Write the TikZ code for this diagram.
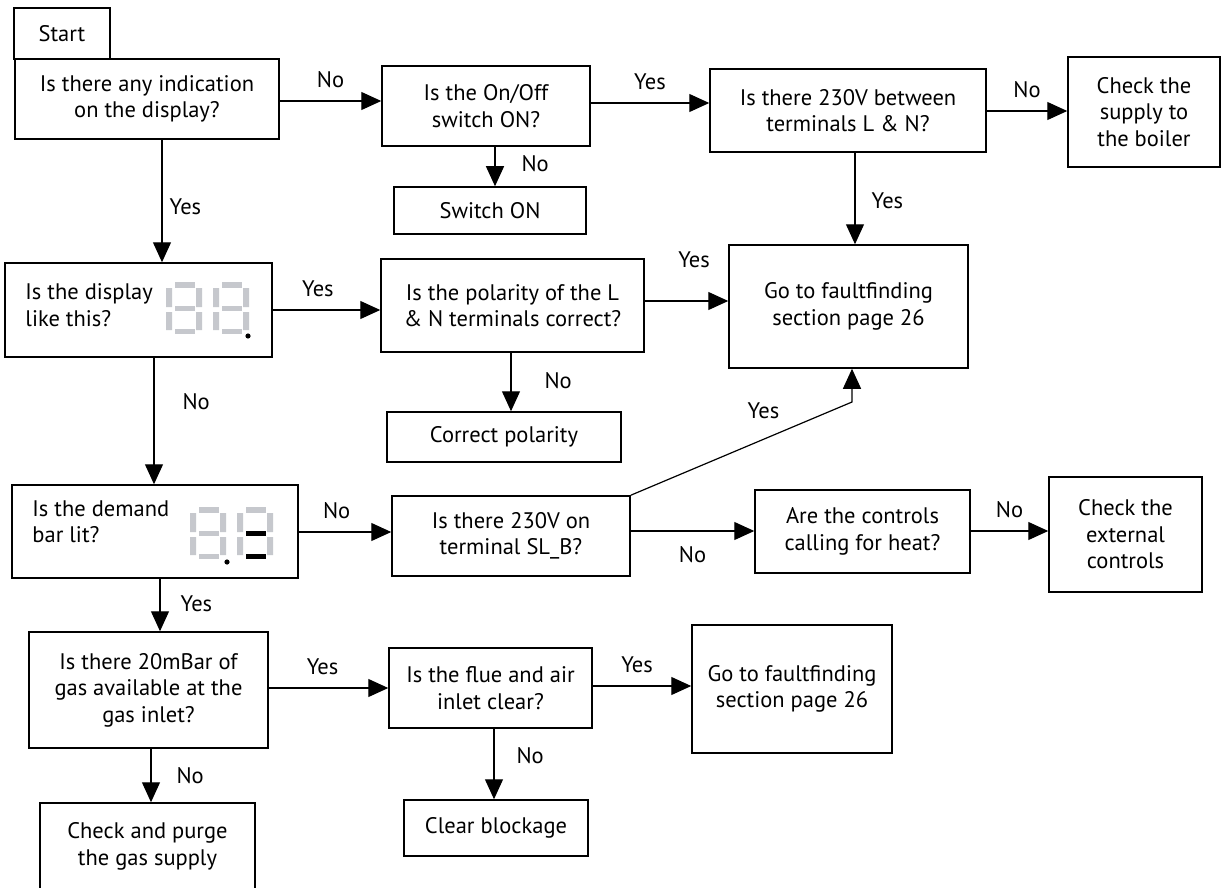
\documentclass[tikz,border=0pt]{standalone}
\usepackage{fontspec}
\setmainfont{PT Sans}
\usetikzlibrary{arrows.meta}
\definecolor{segcol}{RGB}{198,200,205}
\newcommand{\flowfont}{\fontsize{22.5}{26.5}\selectfont}
\tikzset{
    box/.style =    {rectangle,
                    fill=white,
                    draw=black,
                    text=black,
                    line width=1.5pt,
                    align=center,
                    inner sep=4pt,
                    font=\flowfont},
    txt/.style =    {inner sep=0pt,
                    align=left,
                    text=black,
                    font=\flowfont},
    lab/.style =    {inner sep=2pt,
                    text=black,
                    text height=15pt,
                    text depth=5pt,
                    font=\flowfont},
    flow/.style =   {line width=1.2pt,
                    -{Triangle[length=20pt,width=18pt]}},
    seg/.style =    {fill=segcol}}
% one seven segment digit: origin, colour of middle bar, colour of bottom bar
\newcommand{\segdigit}[4]{%
    \begin{scope}[shift={(#1,#2)}]
        \fill[seg] (9,0) rectangle (29,6);
        \fill[#3] (9,24) rectangle (29,29);
        \fill[#4] (9,47) rectangle (29,52);
        \fill[seg] (0,6) rectangle (6,25) (0,30) rectangle (6,48)
                   (30,6) rectangle (36,25) (30,30) rectangle (36,48);
    \end{scope}}

\begin{document}
\begin{tikzpicture}[x=1pt,y=-1pt]
    \useasboundingbox (0,0) rectangle (1221,888);
    % boxes
    \node[box, minimum width=96pt,  minimum height=51pt]  (start)  at (62,33.5)    {Start};
    \node[box, minimum width=264pt, minimum height=80pt]  (q1)     at (147,99)     {Is there any indication\\on the display?};
    \node[box, minimum width=208pt, minimum height=80pt]  (q2)     at (486,106)    {Is the On/Off\\switch ON?};
    \node[box, minimum width=276pt, minimum height=83pt]  (q3)     at (848,110.5)  {Is there 230V between\\terminals L \& N?};
    \node[box, minimum width=152pt, minimum height=110pt] (supply) at (1144,112)   {Check the\\supply to\\the boiler};
    \node[box, minimum width=192pt, minimum height=47pt]  (swon)   at (490,210.5)  {Switch ON};
    \node[box, minimum width=267pt, minimum height=94pt]  (q4)     at (138.5,310)  {};
    \node[box, minimum width=263pt, minimum height=93pt]  (q5)     at (512.5,305.5){Is the polarity of the L\\\& N terminals correct?};
    \node[box, minimum width=239pt, minimum height=123pt] (goto1)  at (848.5,306.5){Go to faultfinding\\section page 26};
    \node[box, minimum width=234pt, minimum height=50pt]  (cpol)   at (504,437)    {Correct polarity};
    \node[box, minimum width=286pt, minimum height=93pt]  (q6)     at (155,531.5)  {};
    \node[box, minimum width=238pt, minimum height=80pt]  (q7)     at (511,536)    {Is there 230V on\\terminal SL\_B?};
    \node[box, minimum width=215pt, minimum height=83pt]  (q8)     at (862.5,531.5){Are the controls\\calling for heat?};
    \node[box, minimum width=153pt, minimum height=115pt] (ext)    at (1125.5,534.5){Check the\\external\\controls};
    \node[box, minimum width=239pt, minimum height=116pt] (q9)     at (148.5,690)  {Is there 20mBar of\\gas available at the\\gas inlet?};
    \node[box, minimum width=215pt, minimum height=87pt]  (purge)  at (147.5,846.5){Check and purge\\the gas supply};
    \node[box, minimum width=203pt, minimum height=80pt]  (q10)    at (490.5,688)  {Is the flue and air\\inlet clear?};
    \node[box, minimum width=200pt, minimum height=128pt] (goto2)  at (792,689)    {Go to faultfinding\\section page 26};
    \node[box, minimum width=184pt, minimum height=56pt]  (clear)  at (496,828)    {Clear blockage};
    % texts and displays of the two boxes with a display
    \node[txt, anchor=west] (q4text) at ([xshift=21pt,yshift=5pt]q4.west)   {Is the display\\like this?};
    \node[txt, anchor=west] (q6text) at ([xshift=21pt,yshift=9.5pt]q6.west) {Is the demand\\bar lit?};
    \segdigit{166}{282}{seg}{seg}
    \segdigit{213}{282}{seg}{seg}
    \fill (248,336) circle (2.6);
    \segdigit{190}{507}{seg}{seg}
    \segdigit{237}{507}{black}{black}
    \fill (227,562) circle (2.6);
    \coordinate (kink) at (852,402);
    % connectors
    \path [flow]    (0,101 -| q1.east)   edge node [lab, above=6pt] {No} (0,101 -| q2.west)
                    (0,103 -| q2.east)   edge node [lab, above=6pt] {Yes} (0,103 -| q3.west)
                    (0,111 -| q3.east)   edge node [lab, above=6pt] {No} (0,111 -| supply.west)
                    (855,0 |- q3.south)  edge node [lab, pos=0.55, right=14pt] {Yes} (855,0 |- goto1.north)
                    (495,0 |- q2.south)  edge node [lab, pos=0.51, right=24pt] {No} (495,0 |- swon.north)
                    (162,0 |- q1.south)  edge node [lab, pos=0.57, right=5pt] {Yes} (162,0 |- q4.north)
                    (0,310 -| q4.east)   edge node [lab, pos=0.42, above=6pt] {Yes} (0,310 -| q5.west)
                    (0,301 -| q5.east)   edge node [lab, pos=0.59, above=26pt] {Yes} (0,301 -| goto1.west)
                    (511,0 |- q5.south)  edge node [lab, pos=0.52, right=31pt] {No} (511,0 |- cpol.north)
                    (154,0 |- q4.south)  edge node [lab, pos=0.37, right=26pt] {No} (154,0 |- q6.north)
                    (0,532 -| q6.east)   edge node [lab, pos=0.41, above=6pt] {No} (0,532 -| q7.west)
                    (0,531 -| q7.east)   edge node [lab, below=14pt] {No} (0,531 -| q8.west)
                    (0,531 -| q8.east)   edge node [lab, above=6pt] {No} (0,531 -| ext.west)
                    (160,0 |- q6.south)  edge node [lab, pos=0.52, right=18pt] {Yes} (160,0 |- q9.north)
                    (0,688 -| q9.east)   edge node [lab, pos=0.45, above=6pt] {Yes} (0,688 -| q10.west)
                    (151,0 |- q9.south)  edge node [lab, pos=0.56, right=23pt] {No} (151,0 |- purge.north)
                    (0,686 -| q10.east)  edge node [lab, pos=0.45, above=6pt] {Yes} (0,686 -| goto2.west)
                    (494,0 |- q10.south) edge node [lab, pos=0.42, right=20pt] {No} (494,0 |- clear.north);
    \draw [flow] (q7.north east) -- node [lab, pos=0.6, above=13pt] {Yes} (kink) -- (kink |- goto1.south);
\end{tikzpicture}
\end{document}
